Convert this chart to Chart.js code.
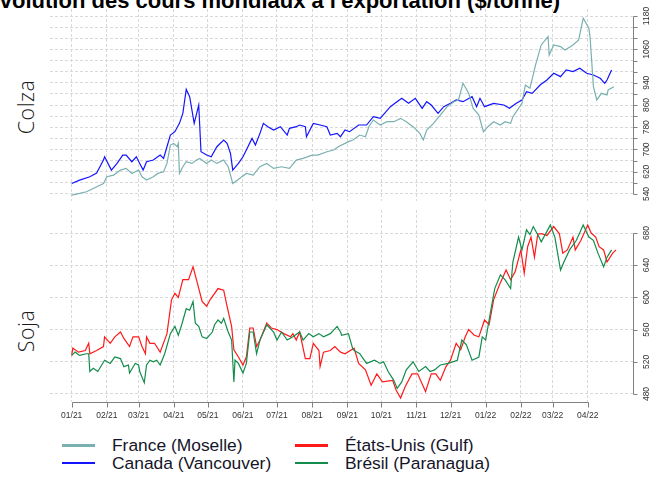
<!DOCTYPE html>
<html><head><meta charset="utf-8">
<script src="https://cdn.jsdelivr.net/npm/chart.js@4.4.1/dist/chart.umd.min.js"></script>
<style>
html,body{margin:0;padding:0;background:#fff;}
#wrap{position:relative;width:662px;height:479px;overflow:hidden;font-family:"Liberation Sans",Arial,sans-serif;background:#fff;}
#title{position:absolute;right:102px;top:-10px;font-size:22px;line-height:22px;font-weight:bold;white-space:nowrap;color:#000;}
.side{position:absolute;font-family:"Open Sans",sans-serif;font-size:21.5px;font-weight:300;color:#1a1a1a;transform:translate(-50%,-50%) rotate(-90deg);white-space:nowrap;line-height:1;letter-spacing:0.5px;}
#c1wrap{position:absolute;left:0;top:0;width:662px;height:205px;}
#c2wrap{position:absolute;left:0;top:205px;width:662px;height:220px;}
.leg{position:absolute;font-size:17.4px;color:#15152a;line-height:17px;white-space:nowrap;}
.legline{position:absolute;height:2.5px;width:33px;}
</style></head>
<body>
<div id="wrap">
  <div id="title">Évolution des cours mondiaux à l'exportation ($/tonne)</div>
  <div class="side" style="left:26px;top:107px;">Colza</div>
  <div class="side" style="left:26px;top:331px;">Soja</div>
  <div id="c1wrap"><canvas id="c1" width="662" height="205"></canvas></div>
  <div id="c2wrap"><canvas id="c2" width="662" height="220"></canvas></div>
  <div id="legend"></div>
</div>
<script>
// Jours depuis le 01/01/2021 pour les débuts de mois (graduations de l'axe X)
const monthDays = [0,31,59,90,120,151,181,212,243,273,304,334,365,396,424,455];
const monthLabels = ['01/21','02/21','03/21','04/21','05/21','06/21','07/21','08/21','09/21','10/21','11/21','12/21','01/22','02/22','03/22','04/22'];

// Graduations des axes Y
const colzaTicks = [540,580,620,660,700,740,780,820,860,900,940,980,1020,1060,1100,1140,1180];
const colzaTickLabels = [540,620,700,780,860,940,1060,1180];
const sojaTicks = [480,520,560,600,640,680];
const sojaTickLabels = [480,520,560,600,640,680];

// Colza — France (Moselle)
const franceDays = [0,7,13,19,28,31,37,43,48,53,59,62,66,72,76,81,84,87,90,93,94,95,98,101,106,110,113,119,123,128,134,138,142,148,154,160,166,172,178,185,192,198,204,212,217,225,231,235,241,245,248,254,259,262,266,272,278,284,290,295,301,307,310,313,319,325,331,337,341,345,350,354,359,363,367,372,378,382,387,389,394,397,400,404,409,414,420,421,425,431,435,442,447,451,456,457,460,463,467,472,473,478];
const franceValues = [536,542,548,560,578,602,608,626,632,614,626,602,590,602,614,620,650,716,722,710,722,614,638,656,650,662,668,650,662,650,662,638,578,596,614,608,638,650,632,638,632,662,668,680,680,692,698,710,722,730,734,752,746,782,806,788,800,800,812,800,782,758,734,770,794,824,854,872,878,938,902,848,824,764,782,800,788,800,794,818,848,866,932,920,1004,1076,1106,1040,1076,1070,1058,1076,1094,1172,1136,1106,926,878,902,896,914,926];

// Colza — Canada (Vancouver)
const canadaDays = [0,7,16,22,28,29,35,40,45,48,53,57,60,63,66,72,78,81,84,87,91,95,98,101,104,108,112,114,119,123,128,134,137,140,142,147,151,154,159,162,166,169,173,178,184,190,192,198,201,206,207,213,219,225,228,234,237,241,245,253,260,266,272,281,285,291,297,303,309,313,317,323,328,334,339,345,353,357,360,364,372,381,386,392,397,401,406,413,419,425,431,436,442,448,454,460,466,470,472,476];
const canadaValues = [578,590,602,615,662,674,626,650,680,680,656,674,650,626,656,662,680,668,710,752,764,794,830,916,890,794,860,692,680,674,710,734,722,686,626,650,674,698,740,716,758,794,782,770,782,752,776,782,788,782,746,794,788,782,752,758,746,770,764,788,788,818,812,854,866,884,866,884,848,872,860,830,854,866,878,872,890,854,884,854,866,860,848,866,878,908,902,932,950,974,962,986,980,992,974,968,956,938,950,986];

// Soja — États-Unis (Gulf)
const usaDays = [0,1,6,12,15,16,22,28,29,34,38,43,46,51,54,59,62,65,66,69,73,78,84,88,91,94,98,103,107,110,115,119,122,129,134,137,141,143,147,151,154,157,160,163,166,172,176,181,187,193,195,198,201,206,210,213,218,219,222,228,232,237,241,249,253,259,264,269,274,283,286,290,294,300,305,312,317,321,325,330,334,339,343,347,350,355,359,364,368,372,377,383,387,391,396,399,402,405,408,411,415,419,425,430,433,437,442,444,449,455,458,462,465,469,472,477,480];
const usaValues = [528,537,532,534,543,530,534,539,551,543,551,557,549,539,551,551,539,530,551,543,543,532,555,597,605,600,622,622,638,622,595,589,597,611,609,589,564,535,526,516,526,562,562,539,547,568,562,560,555,551,555,547,557,524,524,543,534,514,532,534,539,532,530,537,518,510,491,505,495,497,485,475,489,505,505,483,505,505,497,514,522,543,535,551,560,553,551,572,566,597,615,634,622,632,659,630,663,675,650,679,679,677,688,679,655,659,675,659,671,690,680,675,663,659,644,655,659];

// Soja — Brésil (Paranagua)
const bresilDays = [0,3,7,13,15,16,19,23,29,34,38,43,46,50,51,56,59,60,64,66,69,72,75,78,82,87,91,94,97,101,104,107,109,112,115,119,124,126,129,132,134,138,141,143,144,147,151,154,157,160,163,166,172,178,181,185,190,195,201,204,209,213,218,222,228,234,237,238,244,248,254,260,267,272,275,279,284,287,291,295,301,306,312,316,320,325,332,340,344,348,353,359,362,365,369,373,378,382,387,389,394,397,401,404,407,412,414,419,422,426,431,434,439,445,451,456,460,464,469,472,476];
const bresilValues = [528,532,528,530,530,508,512,508,522,518,526,524,514,516,506,518,516,508,494,516,522,520,522,516,530,555,564,553,566,586,584,595,568,564,551,549,557,566,572,568,574,557,547,495,522,518,506,518,557,557,530,547,566,557,547,557,547,551,557,547,555,551,555,551,555,564,557,553,555,535,530,518,522,518,520,508,497,487,495,510,520,508,514,508,510,516,518,522,547,541,522,526,551,547,580,611,628,622,611,644,675,659,684,678,688,675,669,682,690,675,634,644,659,671,690,675,671,655,638,650,659];

const seriesNames = ['France (Moselle)','Canada (Vancouver)','États-Unis (Gulf)','Brésil (Paranagua)'];
const seriesColors = ['#7ab0b0','#1414ff','#ff1a1a','#138c4c'];

function pts(days, vals){ return days.map((d,i)=>({x:d,y:vals[i]})); }

const axisPlugin = {
  id: 'rAxis',
  afterDraw(chart, args, opts) {
    const ctx = chart.ctx, ys = chart.scales.y, xs = chart.scales.x, a = chart.chartArea;
    ctx.save();
    ctx.strokeStyle = '#808080'; ctx.lineWidth = 1;
    const yt = opts.yTicks;
    const xr = Math.round(a.right) + 0.5;
    ctx.beginPath();
    ctx.moveTo(xr, Math.round(ys.getPixelForValue(yt[0])) + 0.5);
    ctx.lineTo(xr, Math.round(ys.getPixelForValue(yt[yt.length-1])) + 0.5);
    yt.forEach(v => { const p = Math.round(ys.getPixelForValue(v)) + 0.5; ctx.moveTo(xr, p); ctx.lineTo(xr + 4, p); });
    ctx.stroke();
    ctx.fillStyle = '#333';
    ctx.font = '8.5px "Liberation Sans", Arial, sans-serif';
    ctx.textAlign = 'center'; ctx.textBaseline = 'middle';
    opts.yLabels.forEach(v => {
      const p = ys.getPixelForValue(v);
      ctx.save(); ctx.translate(a.right + 14, p); ctx.rotate(-Math.PI/2);
      ctx.fillText(String(v), 0, 0); ctx.restore();
    });
    if (opts.showX) {
      const yb = Math.round(a.bottom) + 0.5;
      ctx.beginPath();
      ctx.moveTo(Math.round(xs.getPixelForValue(monthDays[0])) + 0.5, yb);
      ctx.lineTo(Math.round(xs.getPixelForValue(monthDays[monthDays.length-1])) + 0.5, yb);
      monthDays.forEach(d => { const p = Math.round(xs.getPixelForValue(d)) + 0.5; ctx.moveTo(p, yb); ctx.lineTo(p, yb + 5); });
      ctx.stroke();
      monthDays.forEach((d, i) => { ctx.fillText(monthLabels[i], xs.getPixelForValue(d), a.bottom + 13.5); });
    }
    ctx.restore();
  }
};

function makeChart(id, datasets, yMin, yMax, yTicks, yLabels, showX, padTop, padBottom, xHeight) {
  return new Chart(document.getElementById(id), {
    type: 'line',
    data: { datasets },
    plugins: [axisPlugin],
    options: {
      responsive: false, animation: false, devicePixelRatio: 1,
      layout: { padding: { left: 50, right: 0, top: padTop, bottom: padBottom } },
      plugins: { legend: { display: false }, tooltip: { enabled: false },
        rAxis: { yTicks, yLabels, showX } },
      elements: { point: { radius: 0 }, line: { tension: 0, borderWidth: 1.2 } },
      scales: {
        x: { type: 'linear', min: -19.13, max: 494.9,
          afterBuildTicks: s => { s.ticks = monthDays.map(v => ({ value: v })); },
          afterFit: s => { s.height = xHeight; },
          ticks: { display: false },
          grid: { color: '#d9d9d9', lineWidth: 1, drawTicks: false },
          border: { display: false, dash: [3, 2] } },
        y: { type: 'linear', position: 'right', min: yMin, max: yMax,
          afterBuildTicks: s => { s.ticks = yTicks.map(v => ({ value: v })); },
          afterFit: s => { s.width = 29; },
          ticks: { display: false },
          grid: { color: '#d9d9d9', lineWidth: 1, drawTicks: false },
          border: { display: false, dash: [3, 2] } }
      }
    }
  });
}

makeChart('c1', [
  { label: seriesNames[0], data: pts(franceDays, franceValues), borderColor: seriesColors[0] },
  { label: seriesNames[1], data: pts(canadaDays, canadaValues), borderColor: seriesColors[1] }
], 514.83, 1205.17, colzaTicks, colzaTickLabels, false, 9, 4, 0);

makeChart('c2', [
  { label: seriesNames[3], data: pts(bresilDays, bresilValues), borderColor: seriesColors[3] },
  { label: seriesNames[2], data: pts(usaDays, usaValues), borderColor: seriesColors[2] }
], 470.06, 708.6, sojaTicks, sojaTickLabels, true, 5, 0, 23);

// Légende
const legPos = [[62,112,437],[62,112,454.5],[295,345,437],[295,345,454.5]];
const legend = document.getElementById('legend');
seriesNames.forEach((n, i) => {
  const [lx, tx, ty] = legPos[i];
  const l = document.createElement('div'); l.className = 'legline';
  l.style.left = lx + 'px'; l.style.top = (ty + 7) + 'px'; l.style.background = seriesColors[i];
  const t = document.createElement('div'); t.className = 'leg';
  t.style.left = tx + 'px'; t.style.top = ty + 'px'; t.textContent = n;
  legend.appendChild(l); legend.appendChild(t);
});
</script>
</body></html>
